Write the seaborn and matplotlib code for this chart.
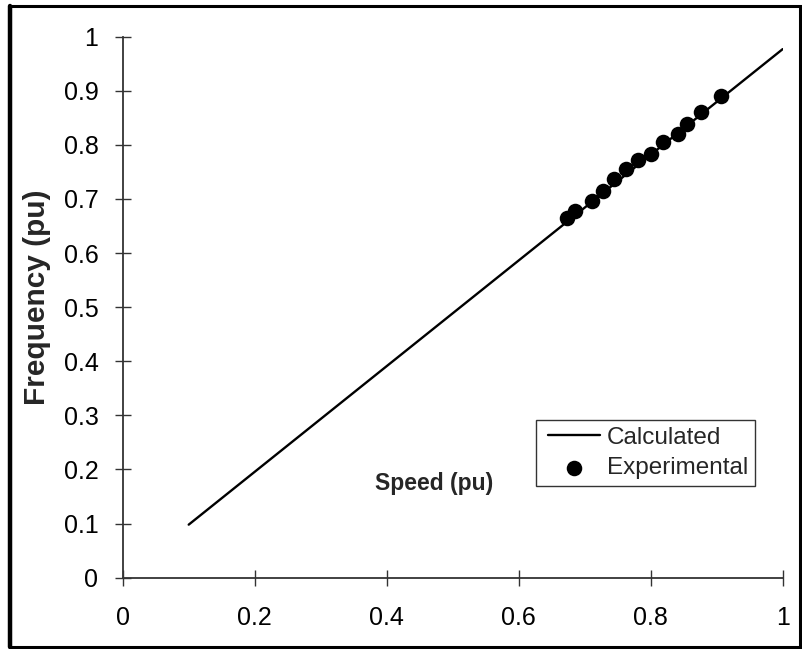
import matplotlib
matplotlib.use("Agg")
import matplotlib.pyplot as plt
import seaborn as sns
import pandas as pd
from matplotlib.patches import Rectangle
from matplotlib.lines import Line2D
from matplotlib.collections import PathCollection
from matplotlib.legend_handler import HandlerLine2D, HandlerPathCollection

# Calculated characteristic (straight line between its end points)
calc_speed = [0.10, 1.00]
calc_freq = [0.098, 0.977]

# Measured operating points
exp_speed = [0.673, 0.686, 0.711, 0.727, 0.745, 0.763, 0.781,
             0.800, 0.818, 0.842, 0.855, 0.876, 0.907]
exp_freq = [0.664, 0.677, 0.697, 0.714, 0.737, 0.755, 0.772,
            0.784, 0.806, 0.820, 0.838, 0.861, 0.890]

x_ticks = [0, 0.2, 0.4, 0.6, 0.8, 1]
x_tick_labels = ["0", "0.2", "0.4", "0.6", "0.8", "1"]
y_ticks = [0, 0.1, 0.2, 0.3, 0.4, 0.5, 0.6, 0.7, 0.8, 0.9, 1]
y_tick_labels = ["0", "0.1", "0.2", "0.3", "0.4", "0.5", "0.6", "0.7", "0.8", "0.9", "1"]

sns.set_style("white")
plt.rcParams["font.family"] = ["Liberation Sans", "DejaVu Sans"]

calc_df = pd.DataFrame({"Speed": calc_speed, "Frequency": calc_freq})
exp_df = pd.DataFrame({"Speed": exp_speed, "Frequency": exp_freq})

fig = plt.figure(figsize=(8.03, 6.49), dpi=100)
ax = fig.add_axes([0.1528, 0.1099, 0.8219, 0.8336])

sns.lineplot(data=calc_df, x="Speed", y="Frequency", ax=ax, color="black",
             linewidth=1.7, label="Calculated")
sns.scatterplot(data=exp_df, x="Speed", y="Frequency", ax=ax, color="black",
                s=125, edgecolor="black", linewidth=0, label="Experimental",
                zorder=3)

ax.set_xlim(0, 1)
ax.set_ylim(0, 1)
ax.set_xticks(x_ticks)
ax.set_xticklabels(x_tick_labels)
ax.set_yticks(y_ticks)
ax.set_yticklabels(y_tick_labels)
ax.tick_params(axis="both", which="major", bottom=True, left=True,
               direction="inout", length=11, width=1.0,
               color="#333333", labelsize=18, labelcolor="black")
ax.tick_params(axis="x", pad=15)
ax.tick_params(axis="y", pad=12)

for side in ("top", "right"):
    ax.spines[side].set_visible(False)
for side in ("left", "bottom"):
    ax.spines[side].set_color("#333333")
    ax.spines[side].set_linewidth(1.3)

ax.set_xlabel("Speed (pu)", fontsize=16.5, fontweight="bold")
ax.xaxis.set_label_coords(0.472, 0.196)
ax.set_ylabel("Frequency (pu)", fontsize=21.5, fontweight="bold")
ax.yaxis.set_label_coords(-0.109, 0.519)

leg = ax.legend(loc="lower left", bbox_to_anchor=(0.626, 0.1695),
                frameon=True, fancybox=False, fontsize=17.5,
                handlelength=2.36, handletextpad=0.27, borderpad=0.28,
                labelspacing=0.35, borderaxespad=0,
                handler_map={Line2D: HandlerLine2D(xpad=0.22),
                             PathCollection: HandlerPathCollection(xpad=0.22)})
leg.get_frame().set_edgecolor("black")
leg.get_frame().set_linewidth(1.0)

# Outer frame around the whole figure, heavier on the left edge
fig.patches.append(Rectangle((10 / 803, 2 / 649), 790 / 803, 641 / 649,
                             transform=fig.transFigure, fill=False,
                             edgecolor="black", linewidth=2.2))
fig.add_artist(Line2D([10 / 803, 10 / 803], [2 / 649, 643 / 649],
                      transform=fig.transFigure, color="black", linewidth=3.2))

fig.savefig("out.png", dpi=100)
